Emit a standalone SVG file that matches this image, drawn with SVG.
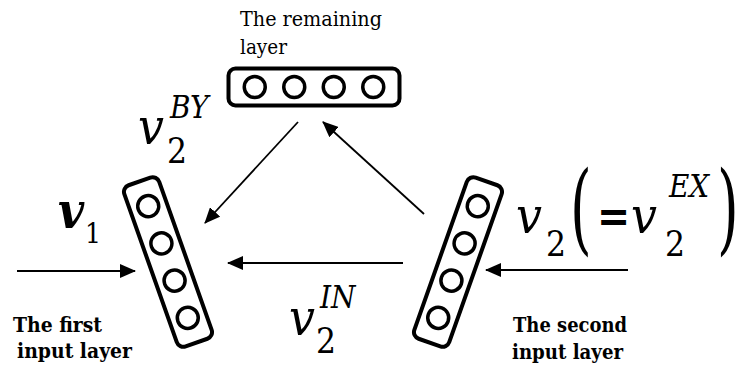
<svg xmlns="http://www.w3.org/2000/svg" width="741" height="372" viewBox="0 0 741 372">
<defs>
<style>
.box{fill:none;stroke:#000;stroke-width:4}
.nd{fill:none;stroke:#000;stroke-width:3.5}
.ln{stroke:#000;stroke-width:1.8;fill:none}
.t{font-family:'DejaVu Serif','Liberation Serif',serif;font-stretch:condensed;fill:#000}
.lbl{font-size:20px}
.bl{font-size:21px;font-weight:bold}
.v{font-style:italic;font-size:51px}
.sub{font-size:35px}
.sup{font-style:italic;font-size:31px}
</style>
<marker id="ah" markerUnits="userSpaceOnUse" markerWidth="16" markerHeight="14" refX="15" refY="7" orient="auto">
<path d="M0,0 L16,7 L0,14 z" fill="#000"/>
</marker>
</defs>
<rect width="741" height="372" fill="#fff"/>

<g id="remaining-layer" transform="translate(314,87)">
<rect class="box" x="-85.5" y="-18.5" width="171" height="37" rx="7"/>
<circle class="nd" cx="-59.25" cy="0" r="10.5"/>
<circle class="nd" cx="-19.75" cy="0" r="10.5"/>
<circle class="nd" cx="19.75" cy="0" r="10.5"/>
<circle class="nd" cx="59.25" cy="0" r="10.5"/>
</g>
<g id="first-input-layer" transform="translate(168,262) rotate(-19.5)">
<rect class="box" x="-18.5" y="-85.5" width="37" height="171" rx="7"/>
<circle class="nd" cx="0" cy="-59.25" r="10.5"/>
<circle class="nd" cx="0" cy="-19.75" r="10.5"/>
<circle class="nd" cx="0" cy="19.75" r="10.5"/>
<circle class="nd" cx="0" cy="59.25" r="10.5"/>
</g>
<g id="second-input-layer" transform="translate(458,262) rotate(19.5)">
<rect class="box" x="-18.5" y="-85.5" width="37" height="171" rx="7"/>
<circle class="nd" cx="0" cy="-59.25" r="10.5"/>
<circle class="nd" cx="0" cy="-19.75" r="10.5"/>
<circle class="nd" cx="0" cy="19.75" r="10.5"/>
<circle class="nd" cx="0" cy="59.25" r="10.5"/>
</g>

<g id="connectors">
<line class="ln" x1="298" y1="122" x2="205" y2="223" marker-end="url(#ah)"/>
<line class="ln" x1="424" y1="214" x2="323" y2="122" marker-end="url(#ah)"/>
<line class="ln" x1="403" y1="263" x2="228" y2="263" marker-end="url(#ah)"/>
<line class="ln" x1="17" y1="271" x2="135" y2="271" marker-end="url(#ah)"/>
<line class="ln" x1="628" y1="270" x2="486" y2="270" marker-end="url(#ah)"/>
</g>

<g id="labels">
<text class="t lbl" x="240" y="26" textLength="142" lengthAdjust="spacingAndGlyphs">The remaining</text>
<text class="t lbl" x="240" y="54" textLength="47" lengthAdjust="spacingAndGlyphs">layer</text>
<text class="t bl" x="13" y="332" textLength="89" lengthAdjust="spacingAndGlyphs">The first</text>
<text class="t bl" x="17" y="358" textLength="115" lengthAdjust="spacingAndGlyphs">input layer</text>
<text class="t bl" x="513" y="332" textLength="114" lengthAdjust="spacingAndGlyphs">The second</text>
<text class="t bl" x="512" y="359" textLength="111" lengthAdjust="spacingAndGlyphs">input layer</text>

<text class="t" x="58" y="228" font-style="italic" font-weight="bold" font-size="50">v</text>
<text class="t" x="85" y="243" font-size="28">1</text>

<text class="t v" x="138" y="144">v</text>
<text class="t sub" x="167" y="163">2</text>
<text class="t sup" x="170" y="118">BY</text>

<text class="t v" x="289" y="335">v</text>
<text class="t sub" x="316" y="353">2</text>
<text class="t sup" x="320" y="308">IN</text>

<text class="t v" x="516" y="233">v</text>
<text class="t sub" x="546" y="256">2</text>
<text class="t" transform="translate(570,242) scale(1,1.6)" font-size="62">(</text>
<text class="t" x="597" y="232" font-size="44" font-weight="bold">=</text>
<text class="t v" x="631" y="233">v</text>
<text class="t sub" x="665" y="256">2</text>
<text class="t sup" x="669" y="197">EX</text>
<text class="t" transform="translate(717,242) scale(1,1.6)" font-size="62">)</text>
</g>
</svg>
